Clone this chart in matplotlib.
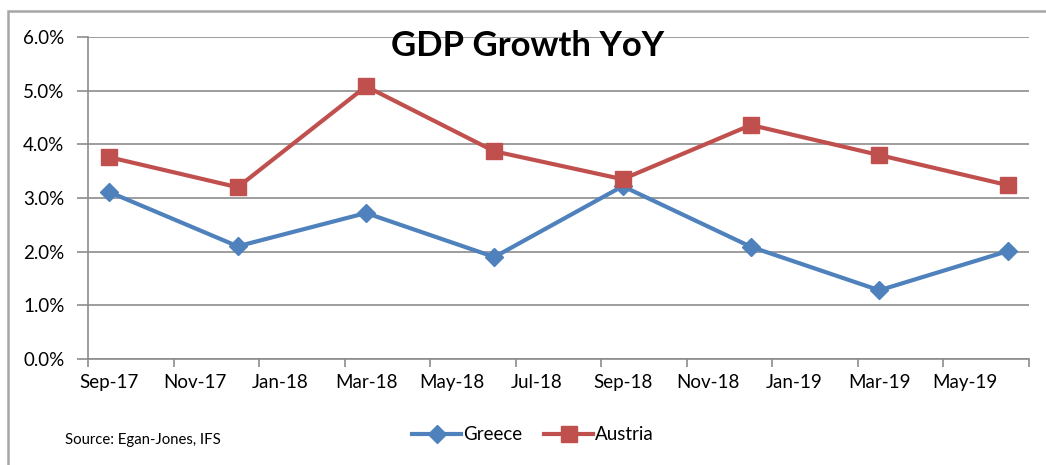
import pandas as pd
import matplotlib
matplotlib.use("Agg")
import matplotlib.pyplot as plt
from matplotlib.patches import Rectangle
from matplotlib.ticker import FuncFormatter, FixedLocator

plt.rcParams["font.family"] = ["Lato", "DejaVu Sans"]

quarters = ["2017-09", "2017-12", "2018-03", "2018-06",
            "2018-09", "2018-12", "2019-03", "2019-06"]
greece = [3.11, 2.10, 2.72, 1.90, 3.22, 2.09, 1.28, 2.01]
austria = [3.76, 3.20, 5.08, 3.87, 3.35, 4.36, 3.80, 3.24]
tick_labels = ["Sep-17", "Nov-17", "Jan-18", "Mar-18", "May-18", "Jul-18",
               "Sep-18", "Nov-18", "Jan-19", "Mar-19", "May-19"]

start = pd.Period("2017-09", freq="M")
x = [(pd.Period(q, freq="M") - start).n for q in quarters]
label_pos = [(pd.Period(pd.to_datetime(t, format="%b-%y"), freq="M") - start).n
             for t in tick_labels]
n_months = x[-1] + 1

blue = "#4F81BD"
red = "#C0504D"
grey = "#8C8C8C"

fig = plt.figure(figsize=(10.46, 4.65), dpi=100)
ax = fig.add_axes([88 / 1046, 1 - 359 / 465, (1029 - 88) / 1046, (359 - 37) / 465])

ax.plot(x, greece, color=blue, lw=3, marker="D", ms=9, label="Greece", zorder=3)
ax.plot(x, austria, color=red, lw=3, marker="s", ms=11, label="Austria", zorder=4)

ax.set_xlim(-0.5, n_months - 0.5)
ax.set_ylim(0, 6)
ax.set_yticks(range(0, 7))
ax.yaxis.set_major_formatter(FuncFormatter(lambda v, p: f"{v:.1f}%"))
ax.grid(axis="y", color=grey, lw=1.2)
ax.set_axisbelow(True)

ax.xaxis.set_major_locator(FixedLocator([p - 0.5 for p in label_pos] + [n_months - 0.5]))
ax.xaxis.set_minor_locator(FixedLocator(label_pos))
ax.set_xticklabels([], minor=False)
ax.set_xticklabels(tick_labels, minor=True)
ax.tick_params(axis="x", which="major", length=6, color=grey, width=1.2)
ax.tick_params(axis="x", which="minor", length=0, pad=11, labelsize=13.5)
ax.tick_params(axis="y", length=8, color=grey, width=1.2, pad=9, labelsize=13.5)

for s in ["top", "right"]:
    ax.spines[s].set_visible(False)
for s in ["left", "bottom"]:
    ax.spines[s].set_color(grey)
    ax.spines[s].set_linewidth(1.2)

fig.text(528 / 1046, 1 - 46 / 465, "GDP Growth YoY", ha="center", va="center",
         fontsize=25, fontweight="bold")
fig.text(65 / 1046, 1 - 440 / 465, "Source: Egan-Jones, IFS", ha="left", va="center",
         fontsize=10.7)

fig.legend(loc="center", bbox_to_anchor=(533 / 1046, 1 - 435 / 465), ncol=2,
           frameon=False, fontsize=13.5, handlelength=2.6, handletextpad=0.1,
           columnspacing=1.2)

fig.patches.append(Rectangle((8 / 1046, -0.1), 1.2, 1.1 - 11 / 465,
                             transform=fig.transFigure, fill=False,
                             edgecolor="#A6A6A6", lw=1.8))

fig.savefig("out.png", dpi=100)
